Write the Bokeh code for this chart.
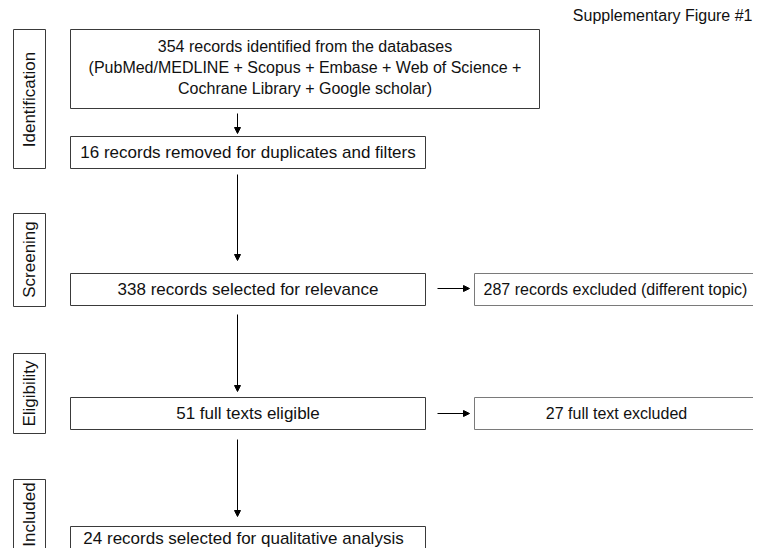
from math import pi
from bokeh.plotting import figure
from bokeh.models import Range1d, Arrow, NormalHead, ColumnDataSource
from bokeh.core.properties import value
from bokeh.embed import file_html
from bokeh.resources import INLINE

# ---- data ----
stages = ["Identification", "Screening", "Eligibility", "Included"]
identified = 354
databases = ["PubMed/MEDLINE", "Scopus", "Embase", "Web of Science", "Cochrane Library", "Google scholar"]
removed = 16
screened = 338
excluded_topic = 287
eligible = 51
excluded_full = 27
included = 24
title = "Supplementary Figure #1"

FONT = value("Liberation Sans")
FS = "17px"
INK = "#111111"

p = figure(width=753, height=548, output_backend="svg", toolbar_location=None,
           x_range=Range1d(0, 753), y_range=Range1d(548, 0), min_border=0)
p.axis.visible = False
p.grid.visible = False
p.outline_line_color = None

# stage boxes (left column)
stage_box = dict(left=[13, 13, 13, 13], right=[45, 45, 45, 45],
                 top=[29, 213, 353, 479], bottom=[168, 306, 433, 553])
p.quad(source=ColumnDataSource(stage_box), left="left", right="right", top="top", bottom="bottom",
       fill_color="white", line_color="#3a3a3a", line_width=1)
p.text(x=[29, 29, 29, 29], y=[99, 259, 393, 514], text=stages, angle=pi / 2,
       text_align="center", text_baseline="middle", text_font=FONT, text_font_size="17px",
       text_color=INK)

# main flow boxes
main_box = dict(left=[70, 70, 70, 70, 70], right=[539, 425, 425, 425, 425],
                top=[29, 136, 273, 397, 526], bottom=[108, 168, 305, 429, 560])
p.quad(source=ColumnDataSource(main_box), left="left", right="right", top="top", bottom="bottom",
       fill_color="white", line_color="#3a3a3a", line_width=1)

first_text = (f"{identified} records identified from the databases\n"
              f"({' + '.join(databases[:4])} +\n{' + '.join(databases[4:])})")
p.text(x=[304.5], y=[67], text=[first_text], text_align="center", text_baseline="middle",
       text_font=FONT, text_font_size="16px", text_line_height=1.25, text_color=INK)

main_texts = [
    f"{removed} records removed for duplicates and filters",
    f"{screened} records selected for relevance",
    f"{eligible} full texts eligible",
    f"{included} records selected for qualitative analysis",
]
p.text(x=[247.5, 247.5, 247.5, 243], y=[152, 289, 413, 538], text=main_texts,
       text_align="center", text_baseline="middle", text_font=FONT, text_font_size=FS,
       text_color=INK)

# exclusion boxes (right column)
side_texts = [f"{excluded_topic} records excluded (different topic)", f"{excluded_full} full text excluded"]
side_box = dict(left=[474, 474], right=[760, 760], top=[273, 397], bottom=[305, 429])
p.quad(source=ColumnDataSource(side_box), left="left", right="right", top="top", bottom="bottom",
       fill_color="white", line_color="#7a7a7a", line_width=1)
p.text(x=[615, 616], y=[289, 413], text=side_texts,
       text_align="center", text_baseline="middle", text_font=FONT, text_font_size="16px",
       text_color=INK)

# arrows
arrows = [(237, 113, 237, 133), (237, 174, 237, 260), (237, 314, 237, 391), (237, 439, 237, 516),
          (437, 288, 469, 288), (437, 413, 469, 413)]
for x0, y0, x1, y1 in arrows:
    p.add_layout(Arrow(x_start=x0, y_start=y0, x_end=x1, y_end=y1, line_color="black", line_width=1,
                       end=NormalHead(size=6, fill_color="black", line_color="black")))

p.text(x=[752], y=[15], text=[title], text_align="right", text_baseline="middle",
       text_font=FONT, text_font_size="16px", text_color=INK)

open("out.html", "w").write(file_html(p, INLINE))
